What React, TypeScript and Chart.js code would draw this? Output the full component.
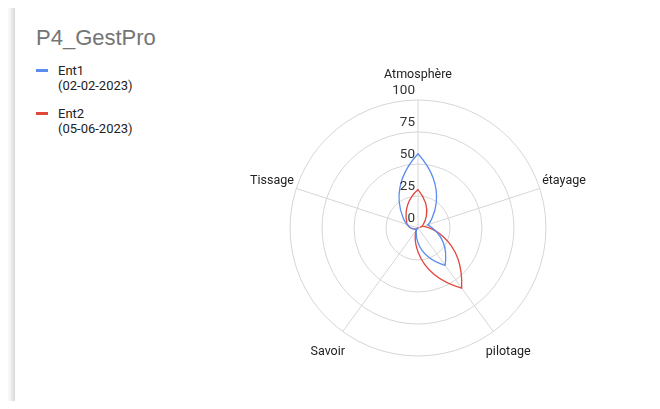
import React, { useEffect, useRef } from "react";
import { Chart, registerables } from "chart.js";

Chart.register(...registerables);

const title = "P4_GestPro";
const categories = ["Atmosphère", "étayage", "pilotage", "Savoir", "Tissage"];
const seriesNames = ["Ent1", "Ent2"];
const seriesDates = ["(02-02-2023)", "(05-06-2023)"];
const ent1Values = [58, 8, 36, 0, 9];
const ent2Values = [30, 2, 58, 0, 9];
const tickValues = [0, 25, 50, 75, 100];
const colors = ["#5b8def", "#e0483e"];

// radial interpolation between two consecutive values (polar smoothing)
function radialInterp(a: number, b: number, t: number) {
  const p = 1.6;
  if (a >= b) return b + (a - b) * Math.pow(1 - t, p);
  return a + (b - a) * Math.pow(t, p);
}

const polarSmoothPlugin = {
  id: "polarSmooth",
  beforeDatasetDraw(chart: any, args: any) {
    const meta = args.meta;
    const line = meta.dataset;
    const scale = chart.scales.r;
    if (!line || !scale) return;
    line.updateControlPoints(chart.chartArea, "x");
    const pts = meta.data;
    const vals = chart.data.datasets[args.index].data as number[];
    const n = pts.length;
    for (let i = 0; i < n; i++) {
      const j = (i + 1) % n;
      const a = vals[i];
      const b = vals[j];
      const q1 = scale.getPointPosition(i + 1 / 3, scale.getDistanceFromCenterForValue(radialInterp(a, b, 1 / 3)));
      const q2 = scale.getPointPosition(i + 2 / 3, scale.getDistanceFromCenterForValue(radialInterp(a, b, 2 / 3)));
      const p0 = pts[i];
      const p3 = pts[j];
      p0.cp2x = (-5 * p0.x + 18 * q1.x - 9 * q2.x + 2 * p3.x) / 6;
      p0.cp2y = (-5 * p0.y + 18 * q1.y - 9 * q2.y + 2 * p3.y) / 6;
      p3.cp1x = (2 * p0.x - 9 * q1.x + 18 * q2.x - 5 * p3.x) / 6;
      p3.cp1y = (2 * p0.y - 9 * q1.y + 18 * q2.y - 5 * p3.y) / 6;
    }
    line._path = undefined;
  },
};

const labelsPlugin = {
  id: "radarLabels",
  afterDraw(chart: any) {
    const scale = chart.scales.r;
    const ctx = chart.ctx;
    ctx.save();
    ctx.font = "13.5px Roboto";
    ctx.fillStyle = "#333";
    ctx.textAlign = "right";
    ctx.textBaseline = "middle";
    tickValues.forEach((v) => {
      const d = scale.getDistanceFromCenterForValue(v);
      ctx.fillText(String(v), scale.xCenter - 3, scale.yCenter - d - 9);
    });
    ctx.font = "12.5px Roboto";
    ctx.fillStyle = "#222";
    ctx.textAlign = "center";
    categories.forEach((c, i) => {
      const pos = scale.getPointPosition(i, scale.drawingArea + 25.5);
      ctx.fillText(c, pos.x, pos.y);
    });
    ctx.restore();
  },
};

export default function App() {
  const ref = useRef<HTMLCanvasElement>(null);
  useEffect(() => {
    const chart = new Chart(ref.current!, {
      type: "radar",
      data: {
        labels: categories,
        datasets: [
          {
            label: seriesNames[0],
            data: ent1Values,
            borderColor: colors[0],
            borderWidth: 1.3,
            fill: false,
            pointRadius: 0,
            tension: 0.4,
          },
          {
            label: seriesNames[1],
            data: ent2Values,
            borderColor: colors[1],
            borderWidth: 1.3,
            fill: false,
            pointRadius: 0,
            tension: 0.4,
          },
        ],
      },
      options: {
        animation: false,
        responsive: false,
        maintainAspectRatio: false,
        layout: { padding: { left: 72, right: 72, top: 40, bottom: 34 } },
        plugins: { legend: { display: false }, tooltip: { enabled: false } },
        scales: {
          r: {
            min: 0,
            max: 100,
            ticks: { display: false, stepSize: 25 },
            grid: { color: "#d6d6d6", lineWidth: 1, circular: true },
            angleLines: { color: "#d6d6d6", lineWidth: 1 },
            pointLabels: { display: false },
          },
        },
      },
      plugins: [polarSmoothPlugin, labelsPlugin],
    });
    return () => chart.destroy();
  }, []);

  return (
    <div style={{ position: "relative", width: 660, height: 409, margin: -8, overflow: "hidden", background: "#fff" }}>
      <div style={{ position: "absolute", left: 0, top: 0, width: 660, height: 4, background: "#faf3f3" }} />
      <div style={{ position: "absolute", left: 15, top: 4, width: 660, height: 420, background: "#fff", boxShadow: "-3px 0 6px rgba(0,0,0,0.18)" }} />
      <div style={{ position: "absolute", left: 36, top: 25, fontFamily: "Arial, 'Liberation Sans'", fontSize: 22, color: "#757575" }}>{title}</div>
      {seriesNames.map((n, i) => (
        <div key={n} style={{ position: "absolute", left: 36, top: 63 + i * 43, fontFamily: "Roboto", fontSize: 13, color: "#222", lineHeight: "15px" }}>
          <div style={{ position: "absolute", left: 0, top: 6, width: 12, height: 3, background: colors[i] }} />
          <div style={{ marginLeft: 22 }}>{n}</div>
          <div style={{ marginLeft: 22 }}>{seriesDates[i]}</div>
        </div>
      ))}
      <canvas ref={ref} width={400} height={330} style={{ position: "absolute", left: 218, top: 60 }} />
    </div>
  );
}
